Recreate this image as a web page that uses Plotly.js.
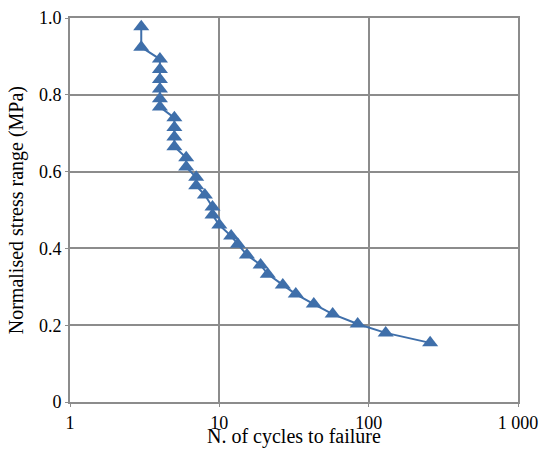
<!DOCTYPE html>
<html>
<head>
<meta charset="utf-8">
<script src="https://cdn.plot.ly/plotly-3.0.1.min.js"></script>
<style>
  html, body { margin: 0; padding: 0; background: #fff; font-family: 'Liberation Serif'; }
  #chart { width: 539px; height: 450px; }
  #chart svg text { font-family: 'Liberation Serif' !important; }
</style>
</head>
<body>
<div id="chart"></div>
<script>
// Fatigue curve: number of cycles to failure vs normalised stress range
const cycles = [3, 3, 4, 4, 4, 4, 4, 4, 5, 5, 5, 5, 6, 6, 7, 7, 8, 9, 9, 10,
                12, 13.3, 15.3, 18.9, 21.1, 26.6, 32.5, 42.9, 57.4, 84.4, 130, 258];
const stress = [0.977, 0.924, 0.893, 0.866, 0.840, 0.815, 0.790, 0.768, 0.740, 0.715,
                0.690, 0.665, 0.636, 0.612, 0.585, 0.563, 0.539, 0.508, 0.487, 0.461,
                0.432, 0.411, 0.383, 0.357, 0.333, 0.305, 0.281, 0.255, 0.229, 0.203,
                0.180, 0.154];

const xTickVals = [1, 10, 100, 1000];
const xTickText = ['1', '10', '100', '1 000'];
const yTickVals = [0, 0.2, 0.4, 0.6, 0.8, 1.0];
const yTickText = ['0', '0.2', '0.4', '0.6', '0.8', '1.0'];

const xTitle = 'N. of cycles to failure';
const yTitle = 'Normalised stress range (MPa)';

const blue = '#3F6FAA';
const grid = '#8C8C8C';
const font = 'Liberation Serif';
const tickFont = { family: font, size: 18, color: '#000' };
const titleFont = { family: font, size: 20, color: '#000' };

function axisStyle() {
  return {
    showgrid: true,
    gridcolor: grid,
    gridwidth: 2,
    showline: true,
    linecolor: grid,
    linewidth: 2,
    mirror: true,
    ticks: 'outside',
    ticklen: 3,
    tickcolor: grid,
    zeroline: false,
    automargin: false,
    tickfont: tickFont
  };
}

function draw() {
  Plotly.newPlot('chart', [{
    x: cycles,
    y: stress,
    type: 'scatter',
    mode: 'lines+markers',
    line: { color: blue, width: 2 },
    marker: { symbol: 'triangle-up', size: 14, color: blue },
    showlegend: false,
    cliponaxis: false
  }], {
    width: 539,
    height: 450,
    margin: { l: 70, r: 21, t: 18, b: 48 },
    paper_bgcolor: '#fff',
    plot_bgcolor: '#fff',
    xaxis: Object.assign(axisStyle(), {
      type: 'log',
      range: [0, 3],
      tickvals: xTickVals,
      ticktext: xTickText
    }),
    yaxis: Object.assign(axisStyle(), {
      range: [0, 1],
      tickvals: yTickVals,
      ticktext: yTickText
    }),
    // axis titles placed as annotations for exact positioning
    annotations: [
      { text: xTitle, xref: 'paper', yref: 'paper', x: 0.5, y: -0.124,
        xanchor: 'center', yanchor: 'bottom', showarrow: false, font: titleFont },
      { text: yTitle, xref: 'paper', yref: 'paper', x: -0.12, y: 0.5, textangle: -90,
        xanchor: 'center', yanchor: 'middle', showarrow: false, font: titleFont }
    ]
  }, { displayModeBar: false, staticPlot: true });
}

if (document.fonts && document.fonts.load) {
  document.fonts.load('18px "Liberation Serif"').then(draw, draw);
} else {
  draw();
}
</script>
</body>
</html>
